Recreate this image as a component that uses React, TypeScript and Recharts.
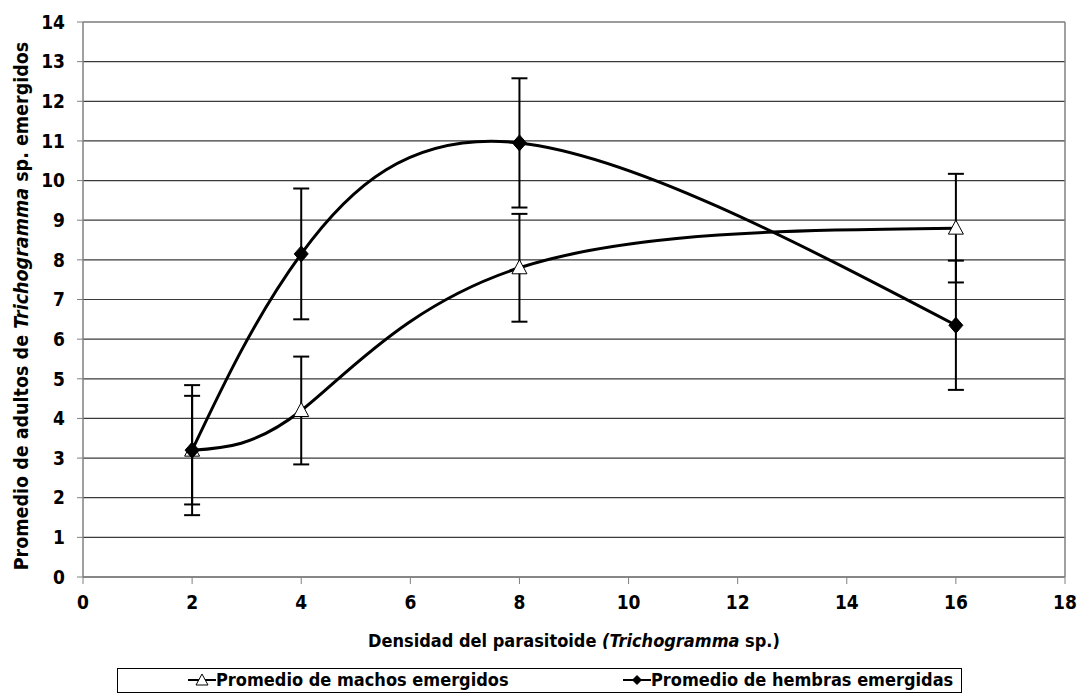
import React from "react";
import {
  ComposedChart,
  Line,
  XAxis,
  YAxis,
  CartesianGrid,
  ErrorBar,
} from "recharts";

// densidad del parasitoide
const densidades = [2, 4, 8, 16];
const machos = [3.2, 4.2, 7.8, 8.8];
const machosErr = [1.37, 1.36, 1.36, 1.37];
const hembras = [3.2, 8.15, 10.95, 6.35];
const hembrasErr = [1.64, 1.65, 1.63, 1.63];
const xTicks = [0, 2, 4, 6, 8, 10, 12, 14, 16, 18];
const yTicks = [0, 1, 2, 3, 4, 5, 6, 7, 8, 9, 10, 11, 12, 13, 14];

const data = densidades.map((d, i) => ({
  x: d,
  machos: machos[i],
  machosErr: machosErr[i],
  hembras: hembras[i],
  hembrasErr: hembrasErr[i],
}));

const FONT = "'Liberation Sans Narrow', 'DejaVu Sans Condensed', 'Arial Narrow', sans-serif";

const Triangle = (props: any) => {
  const { cx, cy, index } = props;
  if (cx == null || cy == null) return null;
  return (
    <polygon
      key={"t" + index}
      points={`${cx},${cy - 8} ${cx + 7.5},${cy + 6} ${cx - 7.5},${cy + 6}`}
      fill="#fff"
      stroke="#000"
      strokeWidth={1}
    />
  );
};

const Diamond = (props: any) => {
  const { cx, cy, index } = props;
  if (cx == null || cy == null) return null;
  return (
    <polygon
      key={"d" + index}
      points={`${cx},${cy - 8} ${cx + 7},${cy} ${cx},${cy + 8} ${cx - 7},${cy}`}
      fill="#000"
      stroke="#000"
      strokeWidth={1}
    />
  );
};

const YTitle = () => (
  <text
    transform="translate(28, 306) rotate(-90)"
    textAnchor="middle"
    fontFamily={FONT}
    fontWeight="bold"
    fontSize={19.5}
    fill="#000"
  >
    Promedio de adultos de <tspan fontStyle="italic">Trichogramma</tspan> sp. emergidos
  </text>
);

const XTitle = (props: any) => {
  const vb = props.viewBox || {};
  const cx = vb.x + vb.width / 2;
  return (
    <text
      x={cx}
      y={647}
      textAnchor="middle"
      fontFamily={FONT}
      fontWeight="bold"
      fontSize={18}
      fill="#000"
    >
      Densidad del parasitoide <tspan fontStyle="italic">(Trichogramma</tspan> sp.)
    </text>
  );
};

const LegendBox = () => (
  <div
    style={{
      position: "absolute",
      left: 117,
      top: 668,
      width: 845,
      height: 25,
      border: "1px solid #000",
      boxSizing: "border-box",
      background: "#fff",
      fontFamily: FONT,
      fontWeight: "bold",
      fontSize: 18,
      lineHeight: "20px",
      color: "#000",
    }}
  >
    <div style={{ position: "absolute", left: 70, top: 1, display: "flex", alignItems: "center" }}>
      <svg width={28} height={20}>
        <line x1={0} y1={10} x2={28} y2={10} stroke="#000" strokeWidth={2} />
        <polygon points="14,4 20,15 8,15" fill="#fff" stroke="#000" strokeWidth={1} />
      </svg>
      <span>Promedio de machos emergidos</span>
    </div>
    <div style={{ position: "absolute", left: 505, top: 1, display: "flex", alignItems: "center" }}>
      <svg width={28} height={20}>
        <line x1={0} y1={10} x2={28} y2={10} stroke="#000" strokeWidth={2} />
        <polygon points="14,5 19,10 14,15 9,10" fill="#000" />
      </svg>
      <span>Promedio de hembras emergidas</span>
    </div>
  </div>
);

export default function App() {
  return (
    <div style={{ position: "absolute", left: 0, top: 0, width: 1080, height: 696, background: "#fff" }}>
      <ComposedChart
        width={1080}
        height={696}
        data={data}
        margin={{ top: 22, right: 15, bottom: 59, left: 0 }}
      >
        <CartesianGrid horizontal vertical={false} stroke="#3a3a3a" strokeWidth={1.2} />
        <XAxis
          type="number"
          dataKey="x"
          domain={[0, 18]}
          ticks={xTicks}
          interval={0}
          height={60}
          axisLine={{ stroke: "#808080", strokeWidth: 1.5 }}
          tickLine={{ stroke: "#808080" }}
          tickSize={7}
          tickMargin={12}
          tick={{ fontFamily: FONT, fontWeight: "bold", fontSize: 19, fill: "#000" }}
          label={<XTitle />}
        />
        <YAxis
          type="number"
          domain={[0, 14]}
          ticks={yTicks}
          interval={0}
          width={83}
          axisLine={{ stroke: "#808080", strokeWidth: 1.5 }}
          tickLine={{ stroke: "#808080" }}
          tickSize={6}
          tickMargin={12}
          tick={{ fontFamily: FONT, fontWeight: "bold", fontSize: 19, fill: "#000" }}
          label={<YTitle />}
        />
        <line x1={1065} y1={22} x2={1065} y2={577} stroke="#808080" strokeWidth={1.5} />
        <Line
          type="natural"
          dataKey="machos"
          stroke="#000"
          strokeWidth={3}
          dot={Triangle}
          activeDot={false}
          isAnimationActive={false}
        >
          <ErrorBar dataKey="machosErr" direction="y" width={8} stroke="#000" strokeWidth={2} />
        </Line>
        <Line
          type="natural"
          dataKey="hembras"
          stroke="#000"
          strokeWidth={3}
          dot={Diamond}
          activeDot={false}
          isAnimationActive={false}
        >
          <ErrorBar dataKey="hembrasErr" direction="y" width={8} stroke="#000" strokeWidth={2} />
        </Line>
      </ComposedChart>
      <LegendBox />
    </div>
  );
}
